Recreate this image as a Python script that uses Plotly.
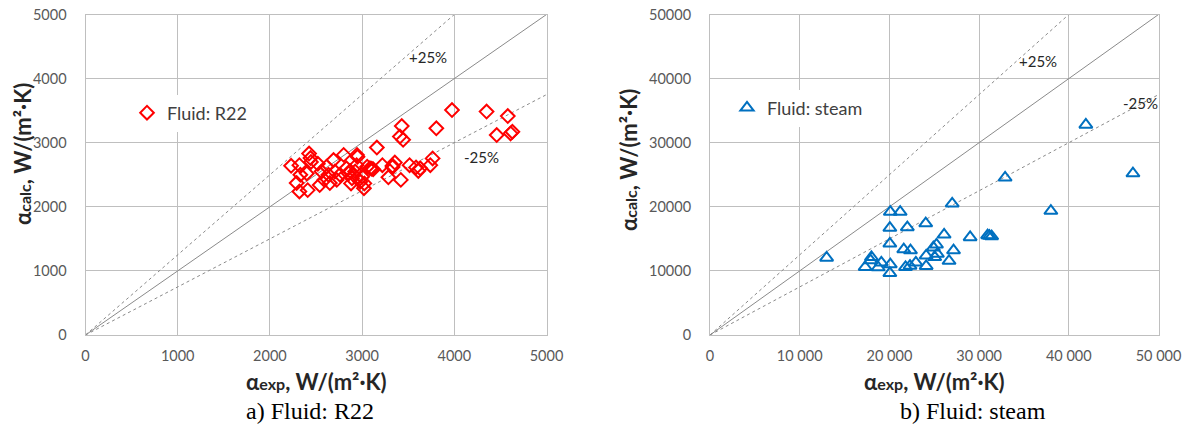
import plotly.graph_objects as go

# ---------------- data ----------------
r22_exp = [2230, 2320, 2290, 2320, 2330, 2400, 2410, 2425, 2440, 2445,
           2520, 2560, 2540, 2615, 2635, 2650, 2690, 2705, 2725, 2800,
           2830, 2855, 2890, 2880, 2945, 2940, 2925, 2945, 2980, 3020,
           3025, 3055, 3085, 3120, 3160, 3220, 3285, 3330, 3355, 3420,
           3430, 3410, 3445, 3515, 3585, 3630, 3740, 3765, 3805, 3975,
           4350, 4460, 4580, 4610, 4630, 2950, 2590, 2760, 2870, 3000,
           3610, 3330, 3105]
r22_calc = [2640, 2650, 2370, 2240, 2500, 2520, 2260, 2830, 2760, 2700,
            2670, 2550, 2340, 2625, 2500, 2370, 2730, 2550, 2420, 2810,
            2600, 2520, 2445, 2365, 2810, 2650, 2550, 2445, 2390, 2290,
            2365, 2625, 2600, 2585, 2925, 2650, 2460, 2640, 2690, 2420,
            3260, 3095, 3045, 2650, 2615, 2600, 2650, 2755, 3225, 3510,
            3485, 3120, 3415, 3145, 3170, 2780, 2420, 2500, 2560, 2470,
            2560, 2620, 2595]

steam_exp = [13000, 20100, 21200, 20050, 22000, 24050, 27000, 20050, 21600, 22350,
             18000, 17900, 19100, 17300, 18750, 20100, 20050, 21800, 22300, 22950,
             24100, 24100, 24900, 25250, 25350, 25050, 26100, 26650, 27150, 29000,
             30950, 31150, 31400, 32900, 38000, 41900, 47150]
steam_calc = [12050, 19200, 19200, 16700, 16800, 17400, 20500, 14250, 13350, 13200,
              12150, 11650, 11300, 10600, 10550, 11000, 9650, 10600, 10800, 11300,
              10750, 12400, 13650, 14100, 12650, 12150, 15650, 11550, 13200, 15250,
              15550, 15450, 15400, 24550, 19350, 32800, 25200]

deviation_factors = [1.0, 1.25, 0.75]
r22_axis_max = 5000
steam_axis_max = 50000
r22_ticks = [0, 1000, 2000, 3000, 4000, 5000]
steam_ticks = [0, 10000, 20000, 30000, 40000, 50000]
steam_x_ticklabels = ["0", "10 000", "20 000", "30 000", "40 000", "50 000"]
steam_y_ticklabels = ["0", "10000", "20000", "30000", "40000", "50000"]

# ---------------- figure ----------------
W, H = 1189, 427
def px(v):
    return v / W
def py(v):
    return 1 - v / H

fig = go.Figure()

line_col = "#8a8a8a"
for axes, amax in (("x", r22_axis_max), ("x2", steam_axis_max)):
    yax = "y" if axes == "x" else "y2"
    for f in deviation_factors:
        fig.add_trace(go.Scatter(
            x=[0, amax], y=[0, f * amax], xaxis=axes, yaxis=yax,
            mode="lines", showlegend=False, hoverinfo="skip",
            line=dict(color=line_col, width=1,
                      dash="solid" if f == 1.0 else "dot")))

fig.add_trace(go.Scatter(
    x=r22_exp, y=r22_calc, mode="markers", name="Fluid: R22",
    xaxis="x", yaxis="y", legend="legend",
    marker=dict(symbol="diamond-open", size=10.5, color="#FF0000",
                line=dict(width=2, color="#FF0000"))))

fig.add_trace(go.Scatter(
    x=steam_exp, y=steam_calc, mode="markers", name="Fluid: steam",
    xaxis="x2", yaxis="y2", legend="legend2",
    marker=dict(symbol="triangle-up-open", size=11.5, color="#0070C0",
                line=dict(width=2, color="#0070C0"))))

font_main = "Lato, 'Noto Sans', sans-serif"
grid = "#BFBFBF"
tickfont = dict(family=font_main, size=14.5, color="#595959")

axis_common = dict(showgrid=True, gridcolor=grid, gridwidth=1, zeroline=False,
                   showline=True, linecolor=grid, linewidth=1, mirror=True,
                   ticks="", tickfont=tickfont, fixedrange=True, automargin=False)

ydom = [py(335), py(14.5)]
fig.update_layout(
    width=W, height=H, margin=dict(l=0, r=0, t=0, b=0, autoexpand=False),
    paper_bgcolor="white", plot_bgcolor="white",
    font=dict(family=font_main),
    xaxis=dict(domain=[px(85.5), px(546.5)], range=[0, r22_axis_max],
               tickvals=r22_ticks, anchor="y", ticklabelstandoff=8, **axis_common),
    yaxis=dict(domain=ydom, range=[0, r22_axis_max], tickvals=r22_ticks,
               anchor="x", ticklabelstandoff=15, **axis_common),
    xaxis2=dict(domain=[px(710), px(1158.5)], range=[0, steam_axis_max],
                tickvals=steam_ticks, ticktext=steam_x_ticklabels,
                anchor="y2", ticklabelstandoff=8, **axis_common),
    yaxis2=dict(domain=ydom, range=[0, steam_axis_max], tickvals=steam_ticks,
                ticktext=steam_y_ticklabels,
                anchor="x2", ticklabelstandoff=15, **axis_common),
    legend=dict(x=px(127), y=py(113), xanchor="left", yanchor="middle",
                bgcolor="white", borderwidth=0,
                font=dict(family=font_main, size=18, color="#404040")),
    legend2=dict(x=px(727), y=py(108), xanchor="left", yanchor="middle",
                 bgcolor="white", borderwidth=0,
                 font=dict(family=font_main, size=18, color="#404040")),
)

title_font = dict(family=font_main, size=22, color="#262626")
sub = "<span style='font-size:16px'>{}</span>"
xt = "<b>α" + sub.format("exp") + ", W/(m²·K)</b>"
yt = "<b>α" + sub.format("calc") + ", W/(m²·K)</b>"

ann = []
ann.append(dict(x=px(316), y=py(381), xref="paper", yref="paper", text=xt,
                showarrow=False, font=title_font, xanchor="center", yanchor="middle"))
ann.append(dict(x=px(934), y=py(381), xref="paper", yref="paper", text=xt,
                showarrow=False, font=title_font, xanchor="center", yanchor="middle"))
ann.append(dict(x=px(23), y=py(154), xref="paper", yref="paper", text=yt,
                textangle=-90, showarrow=False, font=title_font,
                xanchor="center", yanchor="middle"))
ann.append(dict(x=px(628), y=py(160), xref="paper", yref="paper", text=yt,
                textangle=-90, showarrow=False, font=title_font,
                xanchor="center", yanchor="middle"))
cap_font = dict(family="'Liberation Serif', 'Times New Roman', serif", size=24, color="#000000")
ann.append(dict(x=px(310), y=py(411), xref="paper", yref="paper", text="a) Fluid: R22",
                showarrow=False, font=cap_font, xanchor="center", yanchor="middle"))
ann.append(dict(x=px(973), y=py(411), xref="paper", yref="paper", text="b) Fluid: steam",
                showarrow=False, font=cap_font, xanchor="center", yanchor="middle"))
pct_font = dict(family=font_main, size=15, color="#262626")
ann.append(dict(x=3715, y=4330, xref="x", yref="y", text="+25%", showarrow=False, font=pct_font))
ann.append(dict(x=4290, y=2770, xref="x", yref="y", text="-25%", showarrow=False, font=pct_font))
ann.append(dict(x=36570, y=42790, xref="x2", yref="y2", text="+25%", showarrow=False, font=pct_font))
ann.append(dict(x=47940, y=36250, xref="x2", yref="y2", text="-25%", showarrow=False, font=pct_font))
fig.update_layout(annotations=ann)

fig.write_html("out.html")
